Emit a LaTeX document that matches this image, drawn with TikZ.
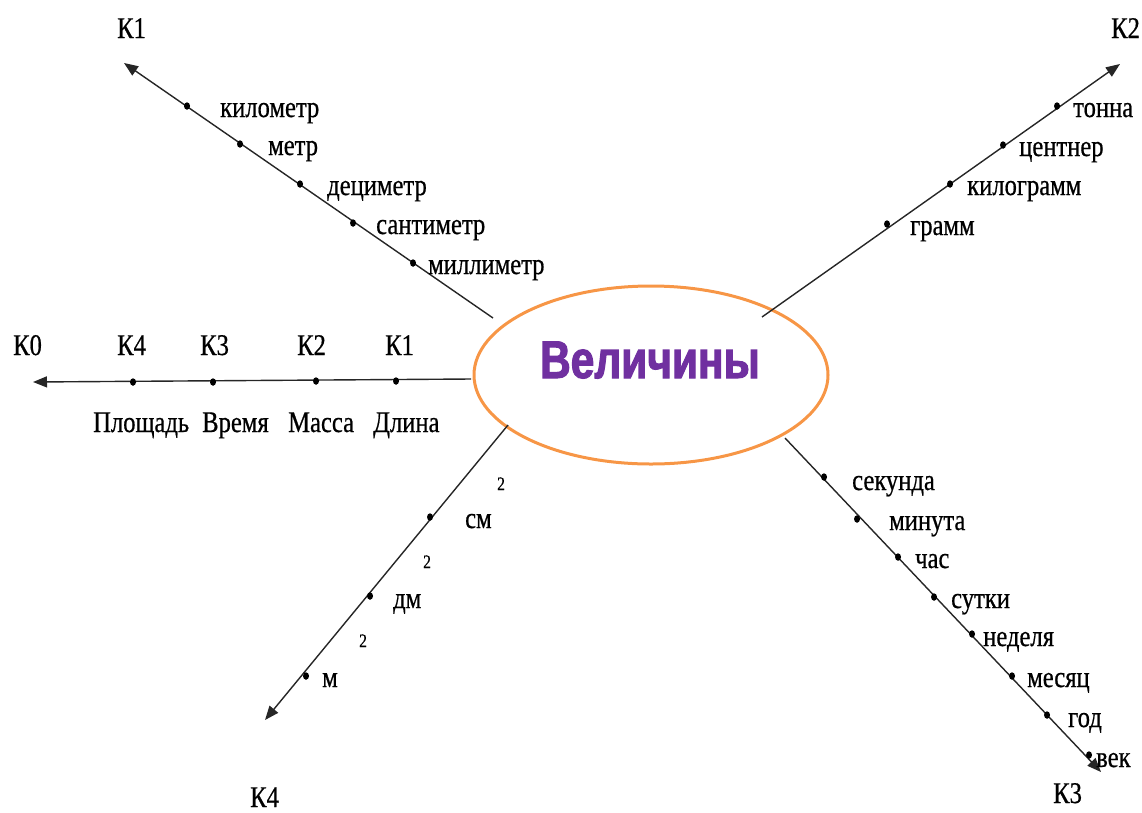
\documentclass[tikz,border=0pt]{standalone}
\usepackage{fontspec}
\setmainfont{Liberation Serif}[FakeStretch=0.82,FakeBold=0.6]
\newfontfamily\titlefont{Liberation Sans}[FakeStretch=0.8,FakeBold=2]
\usetikzlibrary{arrows.meta,shapes.geometric}
\definecolor{ellorange}{RGB}{247,150,70}
\definecolor{titlepurple}{RGB}{112,48,160}
\begin{document}
\begin{tikzpicture}[x=1pt,y=-1pt,
  axis/.style={line width=1.4pt, draw=black!85, -{Triangle[length=14pt,width=11pt]}},
  pt/.style={ellipse, fill=black, inner sep=0pt, minimum width=6pt, minimum height=7.5pt},
  lbl/.style={anchor=base west, inner sep=0pt, font=\fontsize{30}{36}\selectfont},
  sup/.style={anchor=base west, inner sep=0pt, font=\fontsize{19}{22}\selectfont}]
\useasboundingbox (0,0) rectangle (1142,812);
% central ellipse
\node[ellipse, draw=ellorange, line width=3pt, minimum width=354pt, minimum height=178pt, inner sep=0pt] (ell) at (651,375) {};
\node[anchor=base, inner sep=0pt, text=titlepurple, font=\titlefont\bfseries\fontsize{53}{60}\selectfont] (title) at (650,378) {Величины};
% axis ends
\coordinate (s1) at (493,318); \coordinate (e1) at (124,63);
\coordinate (s2) at (762,317); \coordinate (e2) at (1120,64);
\coordinate (s0) at (471,379); \coordinate (e0) at (33,382);
\coordinate (s4) at (508,425); \coordinate (e4) at (265,720);
\coordinate (s3) at (785,438); \coordinate (e3) at (1101,772);
\draw[axis] (s1) -- (e1);
\draw[axis] (s2) -- (e2);
\draw[axis] (s0) -- (e0);
\draw[axis] (s4) -- (e4);
\draw[axis] (s3) -- (e3);
% K1 axis
\node[lbl] (k1) at (117,38) {К1};
\node[pt] (d11) at (187,106) {}; \node[lbl] (t11) at (220,117) {километр};
\node[pt] (d12) at (240,144) {}; \node[lbl] (t12) at (268,155) {метр};
\node[pt] (d13) at (300,184) {}; \node[lbl] (t13) at (327,195) {дециметр};
\node[pt] (d14) at (353,223) {}; \node[lbl] (t14) at (376,234) {сантиметр};
\node[pt] (d15) at (413,263) {}; \node[lbl] (t15) at (428,274) {миллиметр};
% K2 axis
\node[lbl] (k2) at (1111,38) {К2};
\node[pt] (d21) at (1057,106) {}; \node[lbl] (t21) at (1073,117) {тонна};
\node[pt] (d22) at (1003,145) {}; \node[lbl] (t22) at (1019,156) {центнер};
\node[pt] (d23) at (950,184) {}; \node[lbl] (t23) at (967,195) {килограмм};
\node[pt] (d24) at (887,224) {}; \node[lbl] (t24) at (910,235) {грамм};
% K0 axis
\node[lbl] (k0) at (13,355) {К0};
\node[lbl] (h4) at (117,355) {К4};
\node[lbl] (h3) at (200,355) {К3};
\node[lbl] (h2) at (297,355) {К2};
\node[lbl] (h1) at (385,355) {К1};
\node[pt] (d04) at (133,382) {};
\node[pt] (d03) at (213,382) {};
\node[pt] (d02) at (316,381) {};
\node[pt] (d01) at (396,381) {};
\node[lbl] (q4) at (93,432) {Площадь};
\node[lbl] (q3) at (202,432) {Время};
\node[lbl] (q2) at (288,432) {Масса};
\node[lbl] (q1) at (373,432) {Длина};
% K4 axis
\node[lbl] (k4) at (250,807) {К4};
\node[pt] (d41) at (430,517) {}; \node[lbl] (t41) at (465,528) {см}; \node[sup] (p41) at (497,490) {2};
\node[pt] (d42) at (370,596) {}; \node[lbl] (t42) at (393,608) {дм}; \node[sup] (p42) at (423,568) {2};
\node[pt] (d43) at (306,676) {}; \node[lbl] (t43) at (322,687) {м};  \node[sup] (p43) at (359,647) {2};
% K3 axis
\node[lbl] (k3) at (1053,803) {К3};
\node[pt] (d31) at (824,477) {}; \node[lbl] (t31) at (852,490) {секунда};
\node[pt] (d32) at (857,519) {}; \node[lbl] (t32) at (889,530) {минута};
\node[pt] (d33) at (898,557) {}; \node[lbl] (t33) at (915,568) {час};
\node[pt] (d34) at (934,597) {}; \node[lbl] (t34) at (951,608) {сутки};
\node[pt] (d35) at (972,634) {}; \node[lbl] (t35) at (983,646) {неделя};
\node[pt] (d36) at (1012,676) {}; \node[lbl] (t36) at (1027,687) {месяц};
\node[pt] (d37) at (1047,715) {}; \node[lbl] (t37) at (1068,727) {год};
\node[pt] (d38) at (1089,755) {}; \node[lbl] (t38) at (1096,767) {век};
\end{tikzpicture}
\end{document}
